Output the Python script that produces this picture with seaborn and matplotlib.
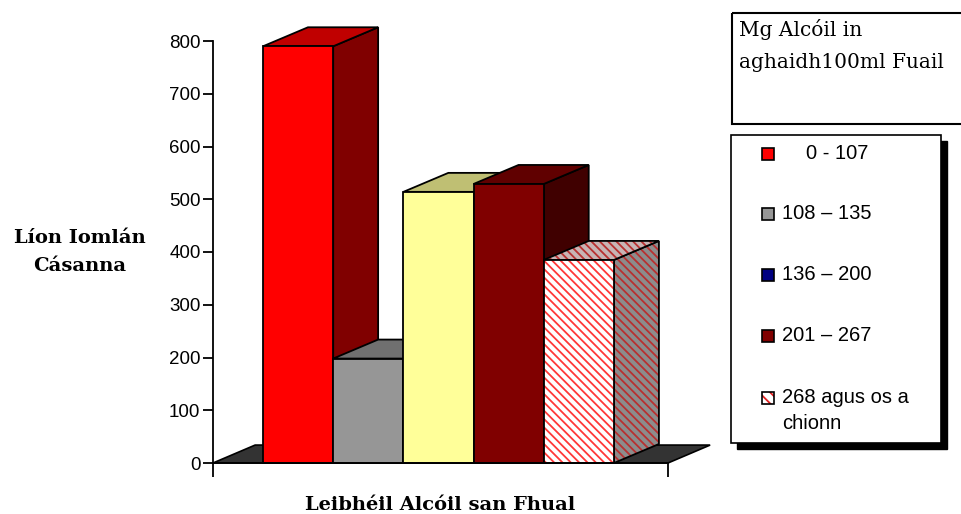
"""
3D-style bar chart: total cases by urine alcohol level (Irish labels).
"""
import matplotlib
matplotlib.use("Agg")
import matplotlib.pyplot as plt
from matplotlib.patches import Polygon, Rectangle
import numpy as np
import pandas as pd
import seaborn as sns

# ── Data ─────────────────────────────────────────────────────────────────────
categories = ["0 - 107", "108 – 135", "136 – 200", "201 – 267", "268 agus os a chionn"]
counts = [790, 198, 514, 529, 385]

legend_labels = ["0 - 107", "108 – 135", "136 – 200", "201 – 267", "268 agus os a\nchionn"]
legend_colors = ["#FF0000", "#969696", "#000080", "#800000", "white"]

front_colors = ["#FF0000", "#969696", "#FFFF99", "#800000", "white"]
top_colors = ["#C00000", "#707070", "#BFBF73", "#600000", "#C8B4B4"]
side_colors = ["#800000", "#606060", "#BFBF73", "#400000", "#8C8C8C"]
hatched = [False, False, False, False, True]

y_ticks = np.arange(0, 801, 100)

# ── Layout (pixel geometry of the reference) ─────────────────────────────────
W, H = 962, 514
DEPTH_X = 0.64   # bar depth, in category units
DEPTH_Y = 36     # bar depth, in value units
FLOOR_X = 0.60
FLOOR_Y = 34
HATCH = "\\" * 4

sns.set_style("white")
plt.rcParams["hatch.linewidth"] = 1.3
plt.rcParams["text.color"] = "black"
plt.rcParams["ytick.color"] = "black"
plt.rcParams["axes.labelcolor"] = "black"
fig = plt.figure(figsize=(W / 100, H / 100), dpi=100)
ax = fig.add_axes([213 / W, (H - 463) / H, (668 - 213) / W, (463 - 41) / H])

df = pd.DataFrame({"level": categories, "cases": counts})
sns.barplot(data=df, x="level", y="cases", hue="level", palette=front_colors,
            width=1.0, legend=False, ax=ax, edgecolor="black", linewidth=1.3,
            saturation=1)

xlim = (-0.5 - 50 / 70.2, 4.5 + 54 / 70.2)
ax.set_xlim(*xlim)
ax.set_ylim(0, 800)

# floor
x0, x1 = xlim
floor = Polygon([(x0, 0), (x1, 0), (x1 + FLOOR_X, FLOOR_Y), (x0 + FLOOR_X, FLOOR_Y)],
                closed=True, facecolor="#333333", edgecolor="black", lw=1.2,
                zorder=1, clip_on=False)
ax.add_patch(floor)

# 3D faces: drawn left to right, each bar above the previous one
for i, (bar, h) in enumerate(zip(ax.patches[:5], counts)):
    left = bar.get_x()
    right = left + bar.get_width()
    z = 3 + 3 * i
    bar.set_zorder(z + 2)
    bar.set_clip_on(False)
    side = [(right, 0), (right + DEPTH_X, DEPTH_Y), (right + DEPTH_X, h + DEPTH_Y), (right, h)]
    top = [(left, h), (right, h), (right + DEPTH_X, h + DEPTH_Y), (left + DEPTH_X, h + DEPTH_Y)]
    for pts, col, dz in [(side, side_colors[i], 0), (top, top_colors[i], 1)]:
        if hatched[i]:
            ax.add_patch(Polygon(pts, closed=True, facecolor=col, edgecolor="#B83030",
                                 hatch=HATCH, lw=0, zorder=z + dz, clip_on=False))
            ax.add_patch(Polygon(pts, closed=True, fill=False, edgecolor="black",
                                 lw=1.3, zorder=z + dz, clip_on=False))
        else:
            ax.add_patch(Polygon(pts, closed=True, facecolor=col, edgecolor="black",
                                 lw=1.3, zorder=z + dz, clip_on=False))
    if hatched[i]:
        bar.set_edgecolor("#FF3838")
        bar.set_hatch(HATCH)
        bar.set_linewidth(0)
        ax.add_patch(Rectangle((left, 0), right - left, h, fill=False, edgecolor="black",
                               lw=1.3, zorder=z + 2, clip_on=False))

# axes styling
for s in ["top", "right"]:
    ax.spines[s].set_visible(False)
for s in ["left", "bottom"]:
    ax.spines[s].set_color("black")
    ax.spines[s].set_linewidth(1.3)
    ax.spines[s].set_zorder(30)
ax.set_yticks(y_ticks)
ax.set_yticklabels([str(t) for t in y_ticks], fontsize=13.5, family="Liberation Sans")
ax.set_xticks([x0, x1])
ax.set_xticklabels([])
ax.tick_params(axis="y", direction="out", length=7, width=1.3, color="black", pad=2, left=True)
ax.tick_params(axis="x", direction="out", length=10, width=1.3, color="black", bottom=True)
ax.grid(False)

ax.set_xlabel("Leibhéil Alcóil san Fhual", fontsize=14, fontweight="bold",
              family="DejaVu Serif", va="center")
ax.xaxis.set_label_coords((440 - 213) / (668 - 213), -(505 - 463) / (463 - 41))
ax.set_ylabel("Líon Iomlán\nCásanna", fontsize=14, fontweight="bold",
              family="DejaVu Serif", rotation=0, linespacing=1.7, va="center", ha="center")
ax.yaxis.set_label_coords((80 - 213) / (668 - 213), (463 - 252) / (463 - 41))

# ── Legend title box and legend (pixel overlay) ──────────────────────────────
ov = fig.add_axes([0, 0, 1, 1], zorder=50)
ov.set_xlim(0, W)
ov.set_ylim(H, 0)
ov.axis("off")
ov.patch.set_visible(False)

ov.add_patch(Rectangle((732, 13), 240, 111, fill=False, edgecolor="black", lw=1.5))
ov.text(739, 30, "Mg Alcóil in", fontsize=14.5, family="DejaVu Serif", va="center")
ov.text(739, 63, "aghaidh100ml Fuail", fontsize=14.5, family="DejaVu Serif", va="center")

ov.add_patch(Rectangle((737, 141), 210, 308, facecolor="black", edgecolor="black"))
ov.add_patch(Rectangle((731, 135), 210, 308, facecolor="white", edgecolor="black", lw=1.2))
row_y = [154, 214, 275, 336, 398]
for i, (lab, col, y) in enumerate(zip(legend_labels, legend_colors, row_y)):
    if hatched[i]:
        ov.add_patch(Rectangle((762, y - 6), 12, 12, facecolor="white", edgecolor="#E02020",
                               hatch="\\\\\\", lw=0))
        ov.add_patch(Rectangle((762, y - 6), 12, 12, fill=False, edgecolor="black", lw=1.2))
    else:
        ov.add_patch(Rectangle((762, y - 6), 12, 12, facecolor=col, edgecolor="black", lw=1.2))
    tx = 806 if i == 0 else 782
    ov.text(tx, y - 10, lab, fontsize=14.5, family="Liberation Sans", va="top",
            linespacing=1.45)

fig.savefig("out.png", dpi=100)
